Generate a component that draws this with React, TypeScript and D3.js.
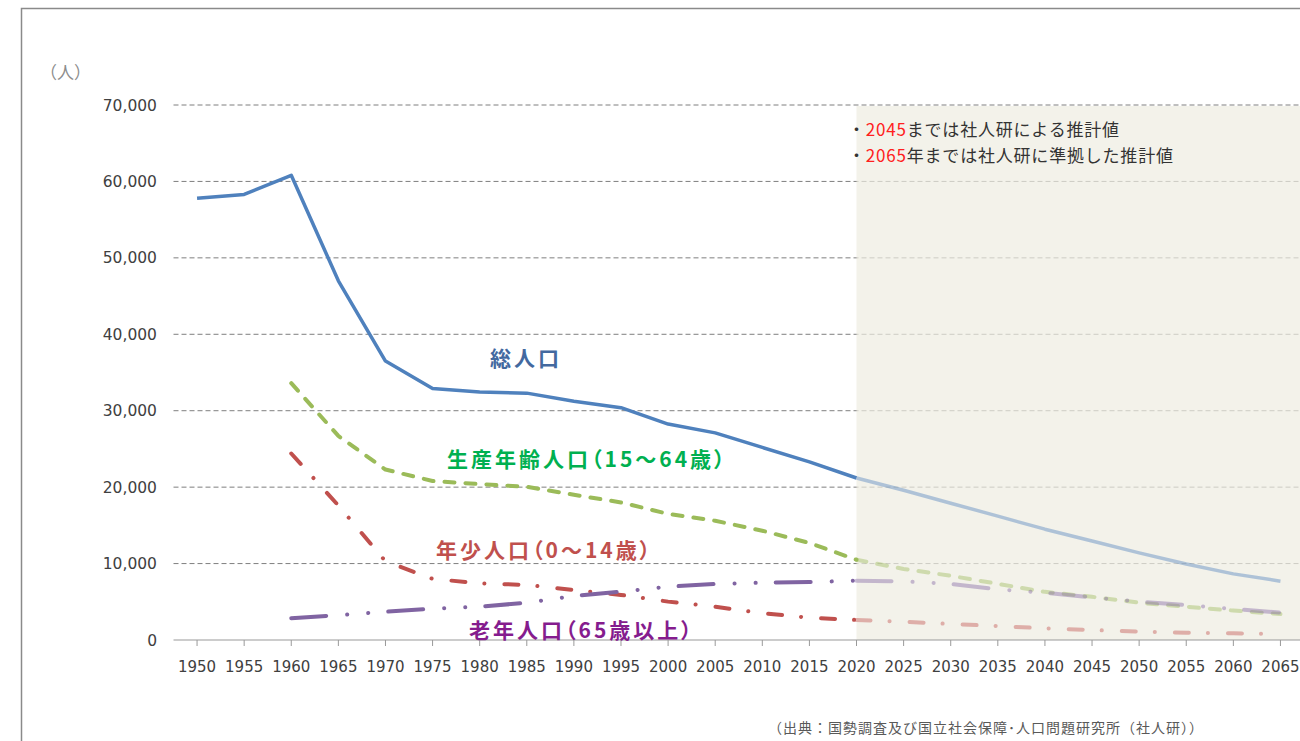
import * as d3 from 'd3';

const years = [
  1950, 1955, 1960, 1965, 1970, 1975, 1980, 1985, 1990, 1995, 2000, 2005,
  2010, 2015, 2020, 2025, 2030, 2035, 2040, 2045, 2050, 2055, 2060, 2065,
];

// 総人口
const totalPop = [
  57800, 58300, 60800, 47000, 36500, 32900, 32450, 32300, 31250, 30400, 28250, 27100,
  25200, 23300, 21200, 19600, 17900, 16200, 14500, 12950, 11400, 9950, 8650, 7700,
];
// 生産年齢人口（15～64歳）, 1960〜
const workingPop = [
  null, null, 33600, 26700, 22300, 20800, 20400, 20050, 19000, 18000, 16500, 15600,
  14300, 12700, 10500, 9300, 8400, 7350, 6300, 5650, 4880, 4350, 3850, 3400,
];
// 年少人口（0～14歳）
const youngPop = [
  null, null, 24400, 17600, 10300, 8000, 7420, 7200, 6540, 5900, 5020, 4360,
  3500, 2920, 2620, 2400, 2090, 1830, 1530, 1310, 1090, 960, 870, 790,
];
// 老年人口（65歳以上）
const elderlyPop = [
  null, null, 2850, 3250, 3700, 4100, 4360, 4880, 5760, 6320, 6980, 7330,
  7500, 7590, 7760, 7680, 7330, 6630, 6190, 5580, 5020, 4580, 4060, 3580,
];

const yTicks = [0, 10000, 20000, 30000, 40000, 50000, 60000, 70000];
const splitYear = 2020;

const seriesList = [
  { name: 'total', values: totalPop, color: '#4F81BD', dash: 'none', cap: 'butt' },
  { name: 'working', values: workingPop, color: '#9BBB59', dash: '10 11', cap: 'round' },
  { name: 'young', values: youngPop, color: '#C0504D', dash: '14 19 0.1 20', cap: 'round' },
  { name: 'elderly', values: elderlyPop, color: '#8064A2', dash: '35 21 0.1 21 0.1 20', cap: 'round' },
];

const seriesLabels = [
  { text: '総人口', x: 490, y: 366, color: '#43699F' },
  { text: '生産年齢人口（15～64歳）', x: 447, y: 467, color: '#00B050' },
  { text: '年少人口（0～14歳）', x: 436, y: 558, color: '#C0504D' },
  { text: '老年人口（65歳以上）', x: 469, y: 638, color: '#851C8E' },
];

const W = 1300;
const H = 741;
const plotLeft = 173.5;
const plotRight = 1304;
const plotTop = 105;
const plotBottom = 640;

const jp = '"Noto Sans CJK JP", "DejaVu Sans", sans-serif';
const num = '"DejaVu Sans", sans-serif';

export default function App() {
  const x = d3.scalePoint<number>().domain(years).range([plotLeft, plotRight]).padding(0.5);
  const y = d3.scaleLinear().domain([0, 70000]).range([plotBottom, plotTop]);
  const splitX = x(splitYear) as number;

  const line = d3
    .line<{ yr: number; v: number | null }>()
    .defined((d) => d.v != null)
    .x((d) => x(d.yr) as number)
    .y((d) => y(d.v as number));

  const pts = (vals: (number | null)[]) => years.map((yr, i) => ({ yr, v: vals[i] }));

  return (
    <svg
      width={W}
      height={H}
      style={{ position: 'absolute', left: 0, top: 0, background: '#fff' }}
    >
      {/* 枠 */}
      <path d={`M21.5,${H} V8.5 H${W}`} fill="none" stroke="#8a8a8a" strokeWidth={1.5} />

      <text x={40} y={79} fontFamily={jp} fontSize={17} fill="#8c8c8c">
        （人）
      </text>

      {/* グリッド */}
      {yTicks.map((t) => (
        <g key={t}>
          {t > 0 && (
            <line
              x1={plotLeft}
              x2={W}
              y1={y(t)}
              y2={y(t)}
              stroke="#7f7f7f"
              strokeWidth={1}
              strokeDasharray="5 3"
            />
          )}
          <text
            x={157}
            y={y(t) + 5.5}
            textAnchor="end"
            fontFamily={num}
            fontSize={15.5}
            fill="#404040"
          >
            {d3.format(',')(t)}
          </text>
        </g>
      ))}

      {/* 推計期間 */}
      <rect
        x={splitX}
        y={plotTop + 1}
        width={W - splitX}
        height={plotBottom - plotTop - 1}
        fill="#EEECE1"
        opacity={0.7}
      />

      {/* X軸 */}
      <line x1={plotLeft} x2={W} y1={plotBottom} y2={plotBottom} stroke="#9a9a9a" strokeWidth={1.2} />
      {years.map((yr) => (
        <g key={yr}>
          <line
            x1={x(yr)}
            x2={x(yr)}
            y1={plotBottom}
            y2={plotBottom + 6}
            stroke="#9a9a9a"
            strokeWidth={1}
          />
          <text
            x={x(yr)}
            y={672}
            textAnchor="middle"
            fontFamily={num}
            fontSize={15}
            fill="#404040"
          >
            {yr}
          </text>
        </g>
      ))}

      {/* 系列 */}
      {seriesList.map((s) => {
        const all = pts(s.values);
        const past = all.filter((d) => d.yr <= splitYear);
        const future = all.filter((d) => d.yr >= splitYear);
        const sw = s.name === 'total' ? 3.5 : 4;
        return (
          <g key={s.name}>
            <path
              d={line(future) ?? ''}
              fill="none"
              stroke={s.color}
              strokeOpacity={0.42}
              strokeWidth={sw}
              strokeDasharray={s.dash}
              strokeLinecap={s.cap as any}
              strokeLinejoin="round"
            />
            <path
              d={line(past) ?? ''}
              fill="none"
              stroke={s.color}
              strokeWidth={sw}
              strokeDasharray={s.dash}
              strokeLinecap={s.cap as any}
              strokeLinejoin="round"
            />
          </g>
        );
      })}

      {seriesLabels.map((l) => (
        <text
          key={l.text}
          x={l.x}
          y={l.y}
          fontFamily={jp}
          fontSize={21}
          fontWeight="bold"
          letterSpacing={3}
          fill={l.color}
          style={{ fontFeatureSettings: '"palt"' }}
        >
          {l.text}
        </text>
      ))}

      {/* 注記 */}
      <text x={848} y={136} fontFamily={jp} fontSize={17} letterSpacing={0.8} fill="#333">
        ・<tspan fill="#FF2020">2045</tspan>までは社人研による推計値
      </text>
      <text x={848} y={162} fontFamily={jp} fontSize={17} letterSpacing={0.8} fill="#333">
        ・<tspan fill="#FF2020">2065</tspan>年までは社人研に準拠した推計値
      </text>

      <text x={768} y={733} fontFamily={jp} fontSize={14} letterSpacing={1} fill="#595959">
        （出典：国勢調査及び国立社会保障･人口問題研究所（社人研））
      </text>
    </svg>
  );
}
